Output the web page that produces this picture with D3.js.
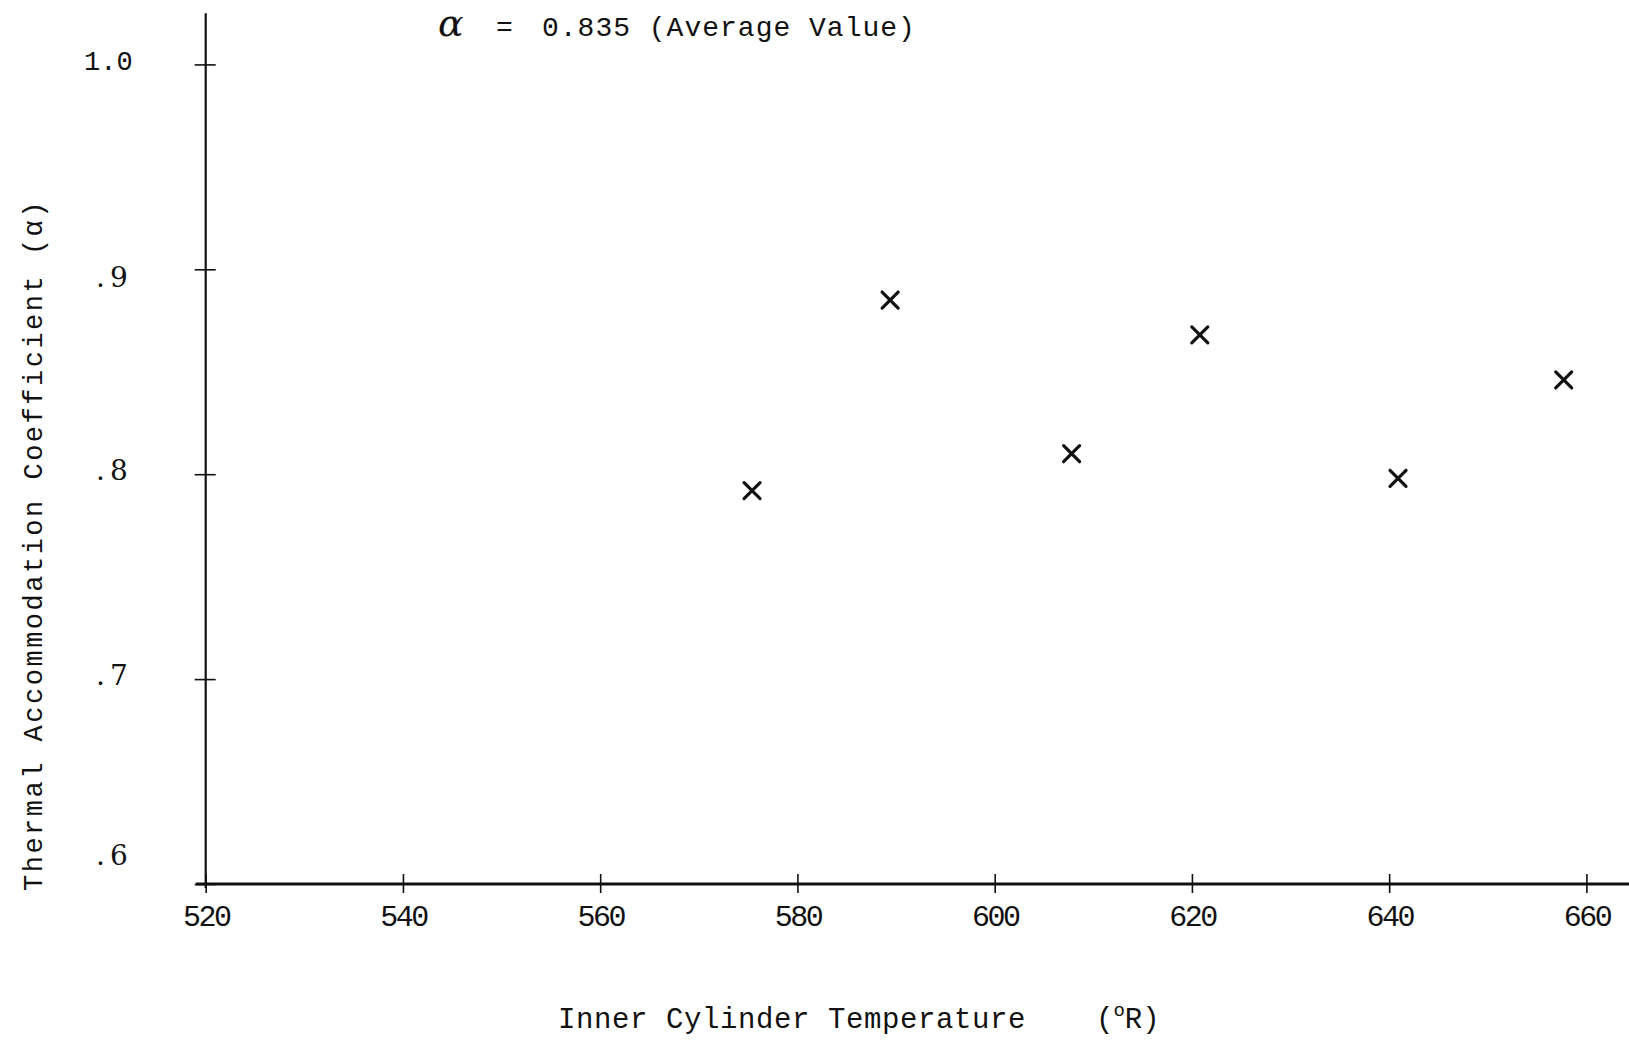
<!DOCTYPE html>
<html lang="en">
<head>
    <meta charset="UTF-8">
    <title>Thermal Accommodation Coefficient</title>
    <style>
        body {
            margin: 0;
            background: #ffffff;
        }
        svg text {
            font-family: 'Liberation Mono', 'DejaVu Sans Mono', monospace;
            fill: #111;
        }
        .domain, .tick line {
            stroke: #111;
        }
    </style>
</head>
<body>
<svg id="chart" width="1629" height="1040"></svg>

<script src="https://d3js.org/d3.v7.min.js"></script>
<script>
  // Data
  const temperatures = [575.4, 589.4, 607.8, 620.8, 640.9, 657.7];
  const coefficients = [0.792, 0.885, 0.810, 0.868, 0.798, 0.846];

  const xTicks = [520, 540, 560, 580, 600, 620, 640, 660];
  const yTicks = [0.6, 0.7, 0.8, 0.9, 1.0];
  const yTickLabels = [".6", ".7", ".8", ".9", "1.0"];

  const svg = d3.select("#chart");

  const x = d3.scaleLinear().domain([520, 660]).range([205.7, 1586.4]);
  const y = d3.scaleLinear().domain([0.6, 1.0]).range([884, 64.4]);

  // x axis: long line to right edge, ticks crossing it
  const xAxis = svg.append("g")
    .attr("transform", `translate(0, ${y(0.6)})`)
    .call(d3.axisBottom(x).tickValues(xTicks).tickSizeOuter(0).tickSize(8));
  xAxis.select(".domain").remove();
  xAxis.append("line")
    .attr("x1", x(519)).attr("x2", x(665))
    .attr("stroke", "#111").attr("stroke-width", 3);
  xAxis.selectAll(".tick line").attr("y1", -10).attr("y2", 9).attr("stroke-width", 1.6);
  xAxis.selectAll(".tick text")
    .attr("y", 42)
    .attr("dy", 0)
    .attr("font-size", 30)
    .attr("letter-spacing", -2.5)
    .style("font-family", "'Liberation Mono', monospace");

  // y axis
  const yAxis = svg.append("g")
    .attr("transform", `translate(${x(520)}, 0)`)
    .call(d3.axisLeft(y).tickValues(yTicks).tickFormat((d, i) => yTickLabels[i]).tickSize(8));
  yAxis.select(".domain").remove();
  yAxis.append("line")
    .attr("y1", y(1.025)).attr("y2", y(0.6) + 4)
    .attr("stroke", "#111").attr("stroke-width", 2.2);
  yAxis.selectAll(".tick line").attr("x1", -11).attr("x2", 10).attr("stroke-width", 1.6);
  yAxis.selectAll(".tick text")
    .attr("x", -73)
    .attr("dy", "0.2em")
    .attr("font-size", 28)
    .attr("letter-spacing", 5)
    .style("font-family", "'DejaVu Serif', serif");
  yAxis.selectAll(".tick").filter(d => d === 0.6).select("text").attr("dy", "-0.7em");
  yAxis.selectAll(".tick").filter(d => d === 0.9).select("text").attr("dy", "0.6em");
  yAxis.selectAll(".tick").filter(d => d === 1.0).select("text")
    .style("font-family", "'Liberation Mono', monospace")
    .attr("letter-spacing", 0).attr("font-size", 27).attr("x", -73);

  // points drawn as x marks
  const points = temperatures.map((t, i) => ({ t: t, a: coefficients[i] }));
  const s = 8;
  svg.append("g").selectAll("path").data(points).enter()
    .append("path")
    .attr("transform", d => `translate(${x(d.t)}, ${y(d.a)})`)
    .attr("d", `M${-s},${-s}L${s},${s}M${-s},${s}L${s},${-s}`)
    .attr("stroke", "#111")
    .attr("stroke-width", 3.2)
    .attr("stroke-linecap", "round")
    .attr("fill", "none");

  // average value note
  const note = svg.append("text")
    .attr("x", 438)
    .attr("y", 36)
    .attr("font-size", 28);
  note.append("tspan")
    .style("font-family", "'DejaVu Serif', serif")
    .attr("font-style", "italic")
    .attr("font-size", 38)
    .text("α");
  note.append("tspan").attr("x", 496).text("=");
  note.append("tspan").attr("x", 542).attr("letter-spacing", 1).text("0.835 (Average Value)");

  // axis titles
  svg.append("text")
    .attr("x", 558)
    .attr("y", 1028)
    .attr("font-size", 29)
    .attr("letter-spacing", 0.6)
    .text("Inner Cylinder Temperature");
  const unit = svg.append("text")
    .attr("x", 1096)
    .attr("y", 1028)
    .attr("font-size", 29);
  unit.append("tspan").text("(");
  unit.append("tspan").attr("font-size", 19).attr("dy", -12).text("o");
  unit.append("tspan").attr("dy", 12).text("R)");

  svg.append("text")
    .attr("transform", "translate(42, 891) rotate(-90)")
    .attr("font-size", 27)
    .attr("letter-spacing", 2.5)
    .style("font-family", "'Liberation Mono', monospace")
    .text("Thermal Accommodation Coefficient (α)");
</script>
</body>
</html>
